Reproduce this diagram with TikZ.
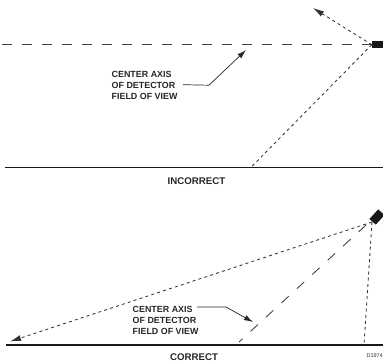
\documentclass[tikz,border=0pt]{standalone}
\usepackage{fontspec}
\setmainfont{Liberation Sans}
\usetikzlibrary{arrows.meta}
\tikzset{
 lab/.style={font=\bfseries\fontsize{8.9}{11}\selectfont,align=left,anchor=north west,inner sep=0pt,text=black!85},
 captext/.style={font=\bfseries\fontsize{9.7}{11}\selectfont,inner sep=0pt,text=black!85},
 ground/.style={line width=1.2pt,black!90},
 axisline/.style={line width=0.8pt,black!75,dash pattern=on 10pt off 10pt},
 rayline/.style={line width=0.85pt,black!80,dash pattern=on 3pt off 3.2pt},
 rayarrow/.style={rayline,-{Latex[length=11pt,width=6pt,sharp]}},
 leader/.style={line width=0.7pt,black!85},
 leaderarrow/.style={leader,-{Latex[length=9pt,width=5.5pt]}},
 det/.style={fill=black!90,draw=none,minimum width=11pt,minimum height=7pt,inner sep=0pt}
}
\begin{document}
\begin{tikzpicture}[x=1pt,y=-1pt]
\useasboundingbox (0,0) rectangle (383,362);
% top
\node[det] (d1) at (377.5,44.7) {};
\coordinate (a1) at (0,44.7);
\coordinate (r1) at (313,8);
\coordinate (gl1) at (5,167.3);
\coordinate (gr1) at (383,167.3);
\coordinate (gh1) at (251,167.3);
\draw[ground] (gl1) -- (gr1);
\draw[axisline] (d1.west) -- (a1);
\draw[rayarrow] (d1.west) -- (r1);
\draw[rayline] (d1.west) -- (gh1);
\node[lab] (t1) at (111.5,71.3) {CENTER AXIS\\OF DETECTOR\\FIELD OF VIEW};
\coordinate (c1a) at (183,84.7);
\coordinate (c1b) at (209,85.2);
\coordinate (c1c) at (246,50);
\draw[leaderarrow] (c1a) -- (c1b) -- (c1c);
\node[captext] (i1) at (196.5,181) {INCORRECT};
% bottom
\node[det,rotate=48,minimum width=13pt,minimum height=8.5pt] (d2) at (377,217) {};
\coordinate (gl2) at (6,345);
\coordinate (gr2) at (383,345);
\coordinate (gh2) at (364,345);
\coordinate (r2) at (10,341.5);
\coordinate (s2) at (372,222);
\coordinate (a2) at (366,225);
\coordinate (e2) at (239,342);
\draw[ground] (gl2) -- (gr2);
\draw[rayarrow] (s2) -- (r2);
\draw[rayline] (s2) -- (gh2);
\draw[line width=0.8pt,black!80,dash pattern=on 10pt off 11pt] (a2) -- (e2);
\node[lab] (t2) at (132.5,306.5) {CENTER AXIS\\OF DETECTOR\\FIELD OF VIEW};
\coordinate (c2a) at (197,307);
\coordinate (c2b) at (226,307);
\coordinate (c2c) at (253,322);
\draw[leaderarrow] (c2a) -- (c2b) -- (c2c);
\node[captext] (i2) at (194,357) {CORRECT};
\node[font=\fontsize{5.5}{6}\selectfont,inner sep=0pt,anchor=east,text=black!80] (id) at (383,355.5) {D1974};
\end{tikzpicture}
\end{document}
